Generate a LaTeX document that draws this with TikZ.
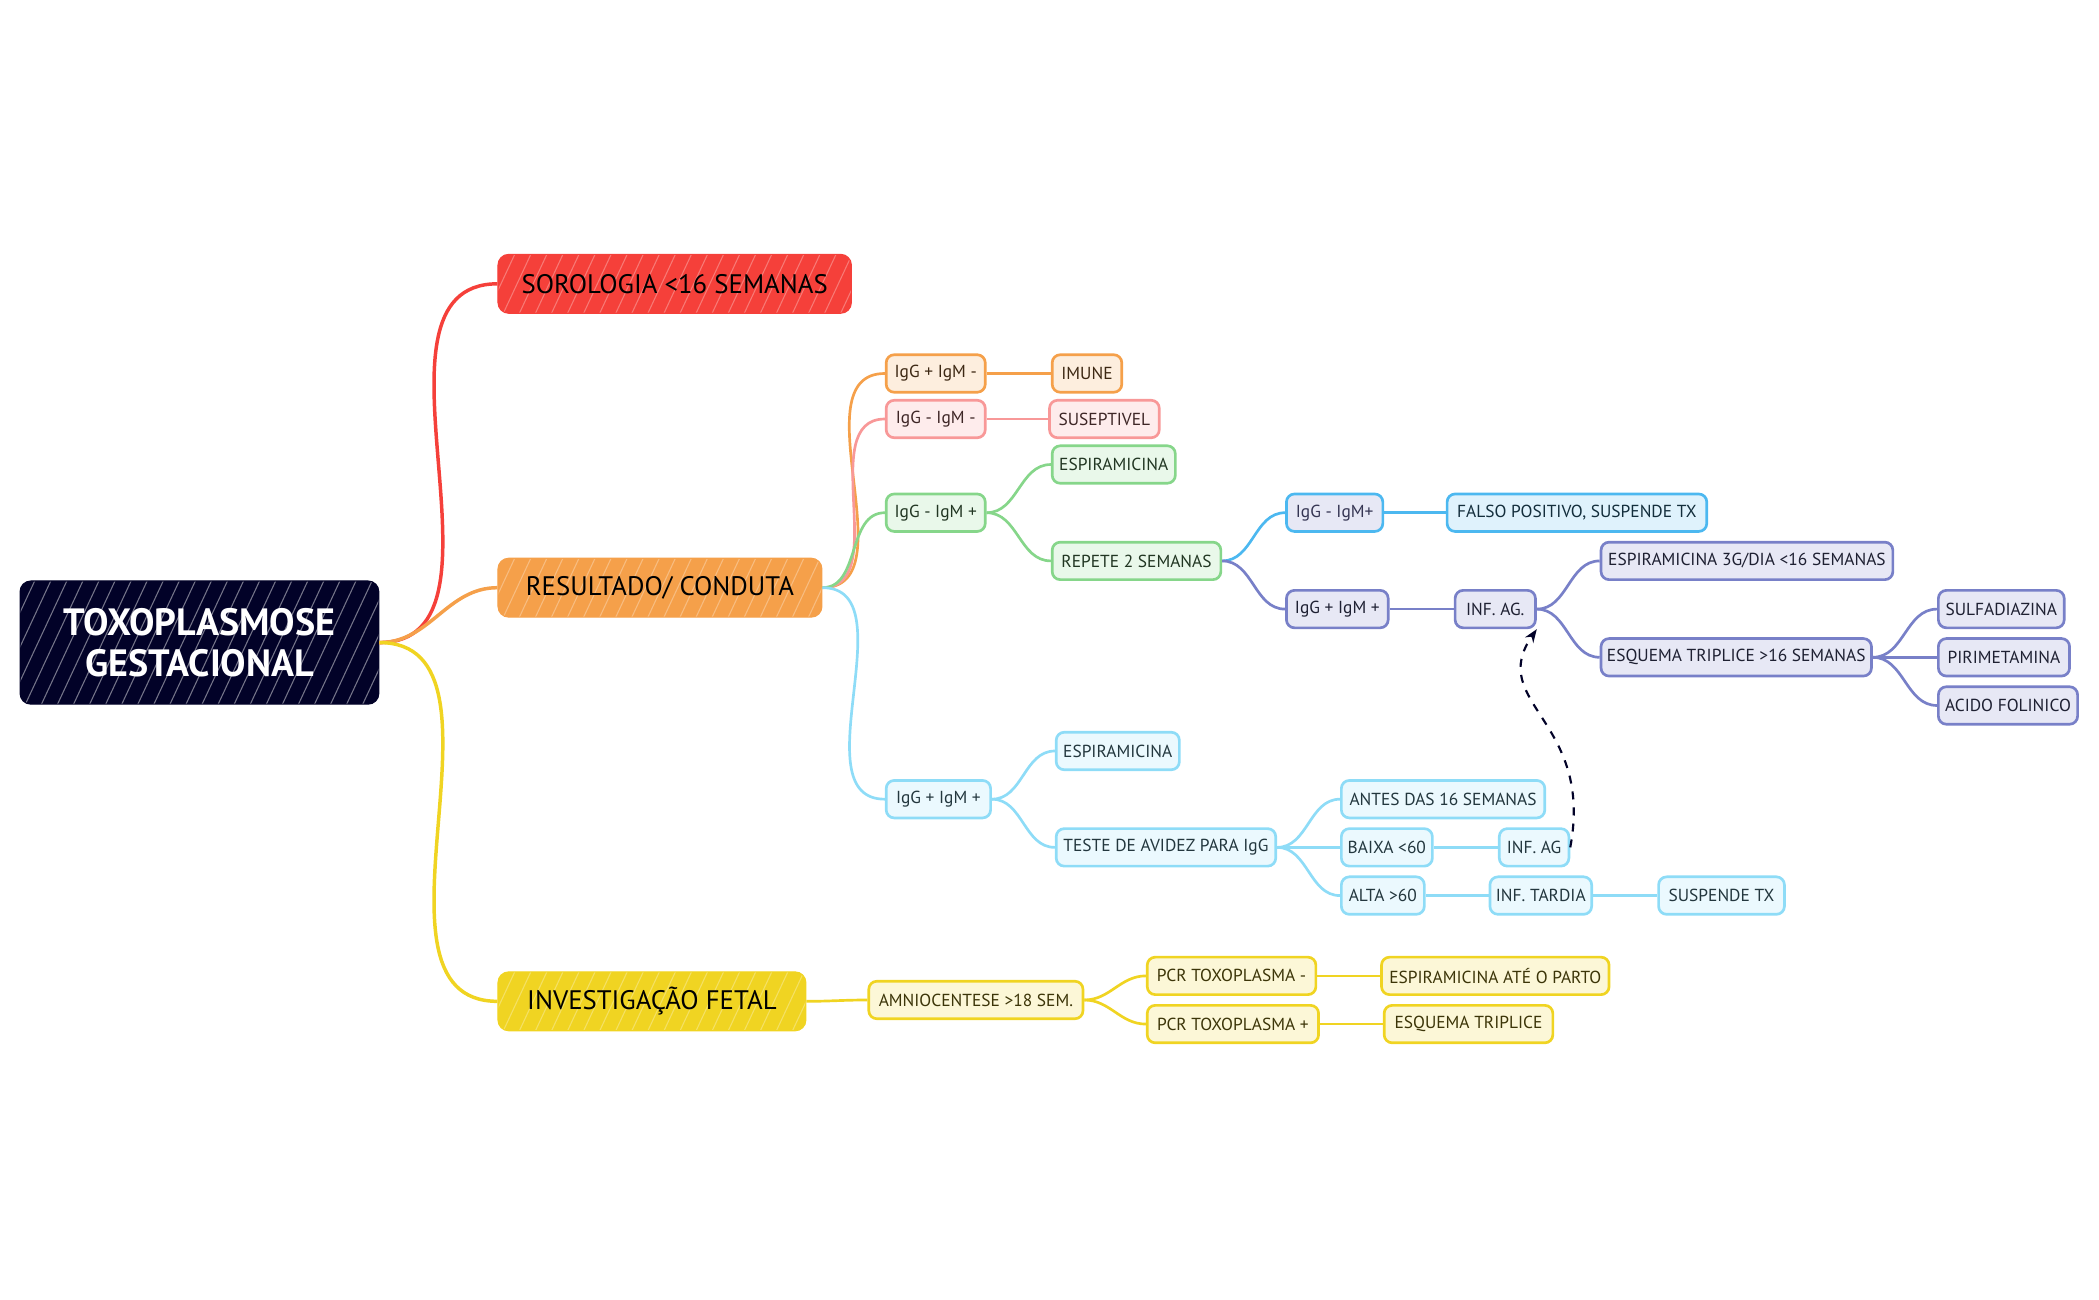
\documentclass[tikz,border=0pt]{standalone}
\usepackage{fontspec}
\setmainfont{PT Sans}
\usepackage{xcolor}
\usepackage{tikz}
\usetikzlibrary{arrows.meta}
\definecolor{mapnavy}{RGB}{2,2,40}
\definecolor{mapred}{RGB}{245,64,58}
\definecolor{maporange}{RGB}{245,160,74}
\definecolor{mapyellow}{RGB}{240,212,34}
\definecolor{mappink}{RGB}{248,152,152}
\definecolor{mapgreen}{RGB}{134,214,138}
\definecolor{mapblue}{RGB}{76,184,240}
\definecolor{mapviolet}{RGB}{120,128,200}
\definecolor{mapcyan}{RGB}{142,220,247}

\tikzset{
  hatch/.style={path picture={
      \foreach \h in {0,6,...,330}
        \draw[white, opacity=#1, line width=.4pt]
          ([xshift={\h*1pt-40pt}]path picture bounding box.south west) -- ++(65:4cm);}},
  topic/.style={fill=mapnavy, draw=mapnavy, text=white, rounded corners=4pt,
      align=center, minimum width=134pt, minimum height=46pt,
      font=\fontsize{14.2}{15.5}\selectfont\bfseries, hatch=.45},
  branch/.style={fill=#1, draw=#1, text=black, rounded corners=4pt,
      minimum height=22pt, font=\fontsize{10}{11}\selectfont, hatch=.3},
  leaf/.style={draw=#1, fill=#1!18, text=#1!25!black, line width=1pt,
      rounded corners=3pt, minimum height=14pt, inner xsep=2pt,
      font=\fontsize{6.5}{7.5}\selectfont},
  link/.style={line width=1pt, out=0, in=180},
  mainlink/.style={link, line width=1.3pt},
}

\begin{document}
\begin{tikzpicture}[x=0.5pt, y=-0.5pt]
\useasboundingbox (0,0) rectangle (1568,971);

% centre and main branches
\node[topic] (root) at (149,480) {TOXOPLASMOSE\\GESTACIONAL};
\node[branch=mapred, minimum width=132pt] (sor) at (504,212) {SOROLOGIA <16 SEMANAS};
\node[branch=maporange, minimum width=121pt] (res) at (493,439) {RESULTADO/ CONDUTA};
\node[branch=mapyellow, minimum width=115pt] (inv) at (487,748) {INVESTIGAÇÃO FETAL};

% resultado / conduta
\node[leaf=maporange, minimum width=37pt] (posneg) at (699,279) {IgG + IgM -};
\node[leaf=maporange, minimum width=26pt] (imune) at (812,279) {IMUNE};
\node[leaf=mappink, minimum width=37pt] (negneg) at (699,313) {IgG - IgM -};
\node[leaf=mappink, minimum width=41pt] (susep) at (825,313) {SUSEPTIVEL};
\node[leaf=mapgreen, minimum width=37pt] (negpos) at (699,383) {IgG - IgM +};
\node[leaf=mapgreen, minimum width=46pt] (espA) at (832,347) {ESPIRAMICINA};
\node[leaf=mapgreen, minimum width=63pt] (repete) at (849,419) {REPETE 2 SEMANAS};
\node[leaf=mapblue, fill=mapviolet!18, text=mapnavy!80, minimum width=36pt] (negposB) at (997,383) {IgG - IgM+};
\node[leaf=mapblue, minimum width=97pt] (falso) at (1178,383) {FALSO POSITIVO, SUSPENDE TX};
\node[leaf=mapviolet, minimum width=38pt] (pospos) at (999,455) {IgG + IgM +};
\node[leaf=mapviolet, minimum width=30pt] (infAg) at (1117,455) {INF. AG.};
\node[leaf=mapviolet, minimum width=109pt] (espDia) at (1305,419) {ESPIRAMICINA 3G/DIA <16 SEMANAS};
\node[leaf=mapviolet, minimum width=101pt] (triplA) at (1297,491) {ESQUEMA TRIPLICE >16 SEMANAS};
\node[leaf=mapviolet, minimum width=47pt] (sulfa) at (1495,455) {SULFADIAZINA};
\node[leaf=mapviolet, minimum width=49pt] (pirim) at (1497,491) {PIRIMETAMINA};
\node[leaf=mapviolet, minimum width=52pt] (acido) at (1500,527) {ACIDO FOLINICO};
\node[leaf=mapcyan, minimum width=39pt] (posposB) at (701,597) {IgG + IgM +};
\node[leaf=mapcyan, minimum width=46pt] (espB) at (835,561) {ESPIRAMICINA};
\node[leaf=mapcyan, minimum width=82pt] (avidez) at (871,633) {TESTE DE AVIDEZ PARA IgG};
\node[leaf=mapcyan, minimum width=76pt] (antes) at (1078,597) {ANTES DAS 16 SEMANAS};
\node[leaf=mapcyan, minimum width=34pt] (baixa) at (1036,633) {BAIXA <60};
\node[leaf=mapcyan, minimum width=26pt] (infAgB) at (1146,633) {INF. AG};
\node[leaf=mapcyan, minimum width=31pt] (alta) at (1033,669) {ALTA >60};
\node[leaf=mapcyan, minimum width=38pt] (tardia) at (1151,669) {INF. TARDIA};
\node[leaf=mapcyan, minimum width=47pt] (suspende) at (1286,669) {SUSPENDE TX};

% investigacao fetal
\node[leaf=mapyellow, minimum width=80pt] (amnio) at (729,747) {AMNIOCENTESE >18 SEM.};
\node[leaf=mapyellow, minimum width=63pt] (pcrNeg) at (920,729) {PCR TOXOPLASMA -};
\node[leaf=mapyellow, minimum width=64pt] (pcrPos) at (921,765) {PCR TOXOPLASMA +};
\node[leaf=mapyellow, minimum width=85pt] (parto) at (1117,729) {ESPIRAMICINA ATÉ O PARTO};
\node[leaf=mapyellow, minimum width=63pt] (triplB) at (1097,765) {ESQUEMA TRIPLICE};

% links
\draw[mainlink, mapred] (root.east) to (sor.west);
\draw[mainlink, maporange] (root.east) to (res.west);
\draw[mainlink, mapyellow] (root.east) to (inv.west);

\draw[link, maporange] (res.east) to (posneg.west);
\draw[link, maporange] (posneg.east) to (imune.west);
\draw[link, mappink] (res.east) to (negneg.west);
\draw[link, mappink] (negneg.east) to (susep.west);
\draw[link, mapgreen] (res.east) to (negpos.west);
\draw[link, mapgreen] (negpos.east) to (espA.west);
\draw[link, mapgreen] (negpos.east) to (repete.west);
\draw[link, mapblue] (repete.east) to (negposB.west);
\draw[link, mapblue] (negposB.east) to (falso.west);
\draw[link, mapviolet] (repete.east) to (pospos.west);
\draw[link, mapviolet] (pospos.east) to (infAg.west);
\draw[link, mapviolet] (infAg.east) to (espDia.west);
\draw[link, mapviolet] (infAg.east) to (triplA.west);
\draw[link, mapviolet] (triplA.east) to (sulfa.west);
\draw[link, mapviolet] (triplA.east) to (pirim.west);
\draw[link, mapviolet] (triplA.east) to (acido.west);
\draw[link, mapcyan] (res.east) to (posposB.west);
\draw[link, mapcyan] (posposB.east) to (espB.west);
\draw[link, mapcyan] (posposB.east) to (avidez.west);
\draw[link, mapcyan] (avidez.east) to (antes.west);
\draw[link, mapcyan] (avidez.east) to (baixa.west);
\draw[link, mapcyan] (avidez.east) to (alta.west);
\draw[link, mapcyan] (baixa.east) to (infAgB.west);
\draw[link, mapcyan] (alta.east) to (tardia.west);
\draw[link, mapcyan] (tardia.east) to (suspende.west);

\draw[link, mapyellow] (inv.east) to (amnio.west);
\draw[link, mapyellow] (amnio.east) to (pcrNeg.west);
\draw[link, mapyellow] (amnio.east) to (pcrPos.west);
\draw[link, mapyellow] (pcrNeg.east) to (parto.west);
\draw[link, mapyellow] (pcrPos.east) to (triplB.west);

% dashed relation
\draw[mapnavy, line width=.8pt, dashed, -{Stealth[length=5pt]}]
  (infAgB.east) .. controls +(18,-95) and +(-38,55) .. (infAg.south east);
\end{tikzpicture}
\end{document}
